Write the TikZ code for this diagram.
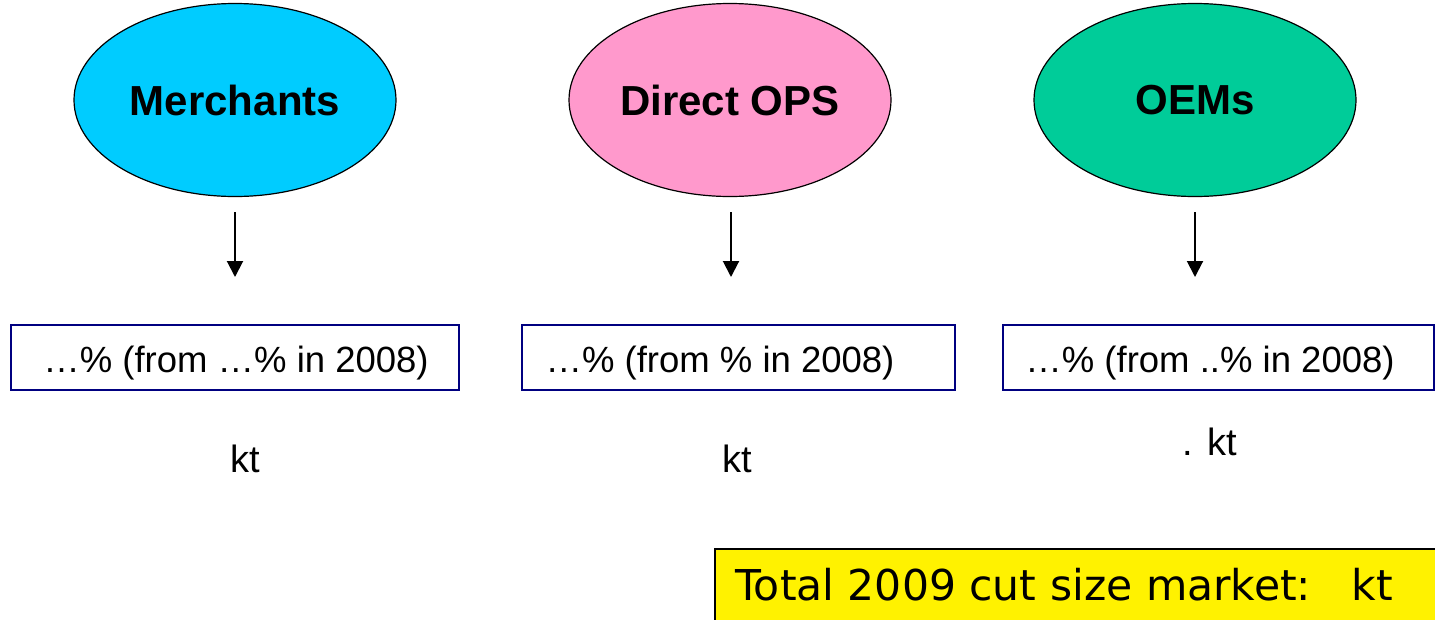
\documentclass[tikz,border=0pt]{standalone}
\usepackage{fontspec}
\setmainfont{Liberation Sans}
\newfontfamily\totalfont{DejaVu Sans}
\usetikzlibrary{shapes.geometric,arrows.meta}
\definecolor{mcyan}{HTML}{00CCFF}
\definecolor{mpink}{HTML}{FF99CC}
\definecolor{mgreen}{HTML}{00CC99}
\definecolor{mnavy}{HTML}{000080}
\tikzset{
  oval/.style={ellipse, draw=black, line width=1.2pt, minimum width=322pt, minimum height=193pt, inner sep=0pt, font=\fontsize{42}{48}\selectfont\bfseries},
  sharebox/.style={draw=mnavy, line width=2pt, minimum height=65pt, inner sep=0pt, font=\fontsize{36.5}{40}\selectfont},
  ktlabel/.style={font=\fontsize{38}{42}\selectfont, inner sep=0pt, anchor=base},
  downarrow/.style={-{Triangle[length=16pt,width=16pt]}, line width=2pt},
}
\begin{document}
\begin{tikzpicture}[x=1pt,y=-1pt]
\useasboundingbox (0,0) rectangle (1435,619);
\node[oval, fill=mcyan] (merch) at (235,100) {Merchants};
\node[oval, fill=mpink] (direct) at (730,100) {Direct OPS};
\node[oval, fill=mgreen] (oem) at (1195,100) {OEMs};
\coordinate (a1s) at (235,212); \coordinate (a1e) at (235,277);
\coordinate (a2s) at (731,212); \coordinate (a2e) at (731,277);
\coordinate (a3s) at (1195,212); \coordinate (a3e) at (1195,277);
\draw[downarrow] (a1s) -- (a1e);
\draw[downarrow] (a2s) -- (a2e);
\draw[downarrow] (a3s) -- (a3e);
\node[sharebox, minimum width=448pt] (b1) at (235,357.5) {};
\node[sharebox, minimum width=433pt] (b2) at (738.5,357.5) {};
\node[sharebox, minimum width=431pt] (b3) at (1218.5,357.5) {};
\node[font=\fontsize{36.5}{40}\selectfont, inner sep=0pt, anchor=base] (t1) at (236,372) {…\% (from …\% in 2008)};
\node[font=\fontsize{36.5}{40}\selectfont, inner sep=0pt, anchor=base] (t2) at (720,372) {…\% (from \% in 2008)};
\node[font=\fontsize{36.5}{40}\selectfont, inner sep=0pt, anchor=base] (t3) at (1210,372) {…\% (from ..\% in 2008)};
\node[ktlabel] (k1) at (245,472) {kt};
\node[ktlabel] (k2) at (737,472) {kt};
\node[ktlabel] (k3) at (1210,455) {. kt};
\node[draw=black, line width=2pt, fill=yellow, minimum width=740pt, minimum height=90pt, anchor=north west, inner sep=0pt] (tot) at (714,548) {};
\node[anchor=base west, inner sep=0pt, font=\totalfont\fontsize{42.5}{48}\selectfont] (totlbl) at (735,600) {Total 2009 cut size market:\ \ \ kt};
\end{tikzpicture}
\end{document}
